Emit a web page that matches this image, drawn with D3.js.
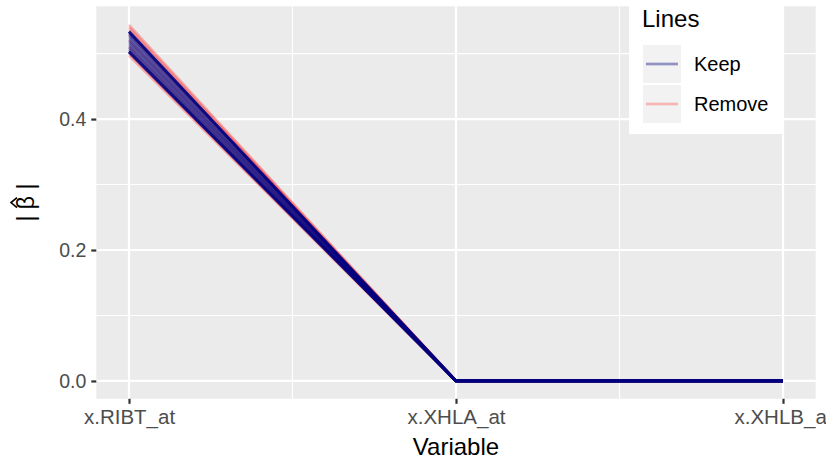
<!DOCTYPE html>
<html>
<head>
<meta charset="utf-8">
<script src="https://cdn.jsdelivr.net/npm/d3@7"></script>
<style>
  html, body { margin: 0; padding: 0; background: #ffffff; }
  svg { display: block; }
  text { font-family: "Liberation Sans", Arial, Helvetica, sans-serif; }
</style>
</head>
<body>
<div id="chart"></div>
<script>
// ---------- data ----------
const categories = ["x.RIBT_at", "x.XHLA_at", "x.XHLB_at"];
const yTicks = [0.0, 0.2, 0.4];
const yTickLabels = ["0.0", "0.2", "0.4"];
const legendLabels = ["Keep", "Remove"];

// each line: |beta_hat| at the three variables
const keepLines = [
  [0.5340, 0, 0], [0.5337, 0, 0], [0.5334, 0, 0], [0.5331, 0, 0], [0.5328, 0, 0],
  [0.5300, 0, 0], [0.5270, 0, 0], [0.5240, 0, 0], [0.5210, 0, 0], [0.5180, 0, 0],
  [0.5150, 0, 0], [0.5120, 0, 0], [0.5090, 0, 0], [0.5060, 0, 0],
  [0.5036, 0, 0], [0.5032, 0, 0], [0.5028, 0, 0], [0.5024, 0, 0], [0.5020, 0, 0]
];
const removeLines = [
  [0.5440, 0, 0], [0.5405, 0, 0], [0.5375, 0, 0], [0.5300, 0, 0],
  [0.5200, 0, 0], [0.5100, 0, 0], [0.5000, 0, 0], [0.4970, 0, 0]
];

// ---------- layout ----------
const W = 826, H = 459;
const panel = { left: 96.3, right: 815.7, top: 6.3, bottom: 398.8 };

const svg = d3.select("#chart").append("svg")
  .attr("width", W).attr("height", H);

const x = d3.scaleLinear().domain([0.9, 3.1]).range([panel.left, panel.right]);
const y = d3.scaleLinear().domain([-0.02725, 0.57225]).range([panel.bottom, panel.top]);

// panel background
svg.append("rect")
  .attr("x", panel.left).attr("y", panel.top)
  .attr("width", panel.right - panel.left).attr("height", panel.bottom - panel.top)
  .attr("fill", "#EBEBEB");

const grid = svg.append("g");
// minor grid
[0.1, 0.3, 0.5].forEach(v => grid.append("line")
  .attr("x1", panel.left).attr("x2", panel.right)
  .attr("y1", y(v)).attr("y2", y(v))
  .attr("stroke", "#ffffff").attr("stroke-width", 1.1));
[1.5, 2.5].forEach(v => grid.append("line")
  .attr("y1", panel.top).attr("y2", panel.bottom)
  .attr("x1", x(v)).attr("x2", x(v))
  .attr("stroke", "#ffffff").attr("stroke-width", 1.1));
// major grid
yTicks.forEach(v => grid.append("line")
  .attr("x1", panel.left).attr("x2", panel.right)
  .attr("y1", y(v)).attr("y2", y(v))
  .attr("stroke", "#ffffff").attr("stroke-width", 2.2));
categories.forEach((c, i) => grid.append("line")
  .attr("y1", panel.top).attr("y2", panel.bottom)
  .attr("x1", x(i + 1)).attr("x2", x(i + 1))
  .attr("stroke", "#ffffff").attr("stroke-width", 2.2));

// ---------- lines ----------
const lineGen = d3.line().x((d, i) => x(i + 1)).y(d => y(d));
const gLines = svg.append("g");
gLines.selectAll("path.remove").data(removeLines).join("path")
  .attr("class", "remove")
  .attr("d", lineGen)
  .attr("fill", "none")
  .attr("stroke", "#FF0000").attr("stroke-opacity", 0.25)
  .attr("stroke-width", 2.7).attr("stroke-linejoin", "round");
gLines.selectAll("path.keep").data(keepLines).join("path")
  .attr("class", "keep")
  .attr("d", lineGen)
  .attr("fill", "none")
  .attr("stroke", "#000080").attr("stroke-opacity", 0.4)
  .attr("stroke-width", 2.7).attr("stroke-linejoin", "round");

// ---------- axes ----------
const yAxis = d3.axisLeft(y).tickValues(yTicks)
  .tickFormat((d, i) => yTickLabels[i]).tickSize(5).tickPadding(5);
const gy = svg.append("g").attr("transform", `translate(${panel.left},0)`).call(yAxis);
gy.select(".domain").remove();
gy.selectAll(".tick line").attr("stroke", "#333333").attr("stroke-width", 2.2);
gy.selectAll(".tick text").attr("fill", "#4D4D4D")
  .style("font-size", "19.5px").style("font-family", "Liberation Sans, Arial, sans-serif");

const xAxis = d3.axisBottom(x).tickValues([1, 2, 3])
  .tickFormat((d, i) => categories[i]).tickSize(5).tickPadding(6);
const gx = svg.append("g").attr("transform", `translate(0,${panel.bottom})`).call(xAxis);
gx.select(".domain").remove();
gx.selectAll(".tick line").attr("stroke", "#333333").attr("stroke-width", 2.2);
gx.selectAll(".tick text").attr("fill", "#4D4D4D")
  .style("font-size", "20.5px").style("font-family", "Liberation Sans, Arial, sans-serif");

// axis titles
svg.append("text")
  .attr("x", (panel.left + panel.right) / 2).attr("y", 455)
  .attr("text-anchor", "middle")
  .style("font-size", "24px").attr("fill", "#000")
  .text("Variable");

const yt = svg.append("g")
  .attr("transform", `translate(34,${(panel.top + panel.bottom) / 2}) rotate(-90)`);
yt.append("text")
  .attr("text-anchor", "middle")
  .style("font-size", "23px").attr("fill", "#000")
  .text("| β |");
yt.append("path")
  .attr("d", "M-5,-17 L0,-23 L5,-17")
  .attr("fill", "none").attr("stroke", "#000").attr("stroke-width", 1.6);

// ---------- legend ----------
const lg = svg.append("g");
lg.append("rect")
  .attr("x", 629).attr("y", 0).attr("width", 154).attr("height", 134)
  .attr("fill", "#ffffff");
lg.append("text").attr("x", 642).attr("y", 27)
  .style("font-size", "24px").attr("fill", "#000").text("Lines");
const legendColors = [
  { stroke: "#000080", op: 0.4 },
  { stroke: "#FF0000", op: 0.25 }
];
legendLabels.forEach((lab, i) => {
  const ky = 45 + i * 40;
  lg.append("rect").attr("x", 643).attr("y", ky).attr("width", 38).attr("height", 38)
    .attr("fill", "#F2F2F2");
  lg.append("line").attr("x1", 646).attr("x2", 678)
    .attr("y1", ky + 19).attr("y2", ky + 19)
    .attr("stroke", legendColors[i].stroke).attr("stroke-opacity", legendColors[i].op)
    .attr("stroke-width", 2.7);
  lg.append("text").attr("x", 694).attr("y", ky + 26)
    .style("font-size", "20px").attr("fill", "#000").text(lab);
});
</script>
</body>
</html>
